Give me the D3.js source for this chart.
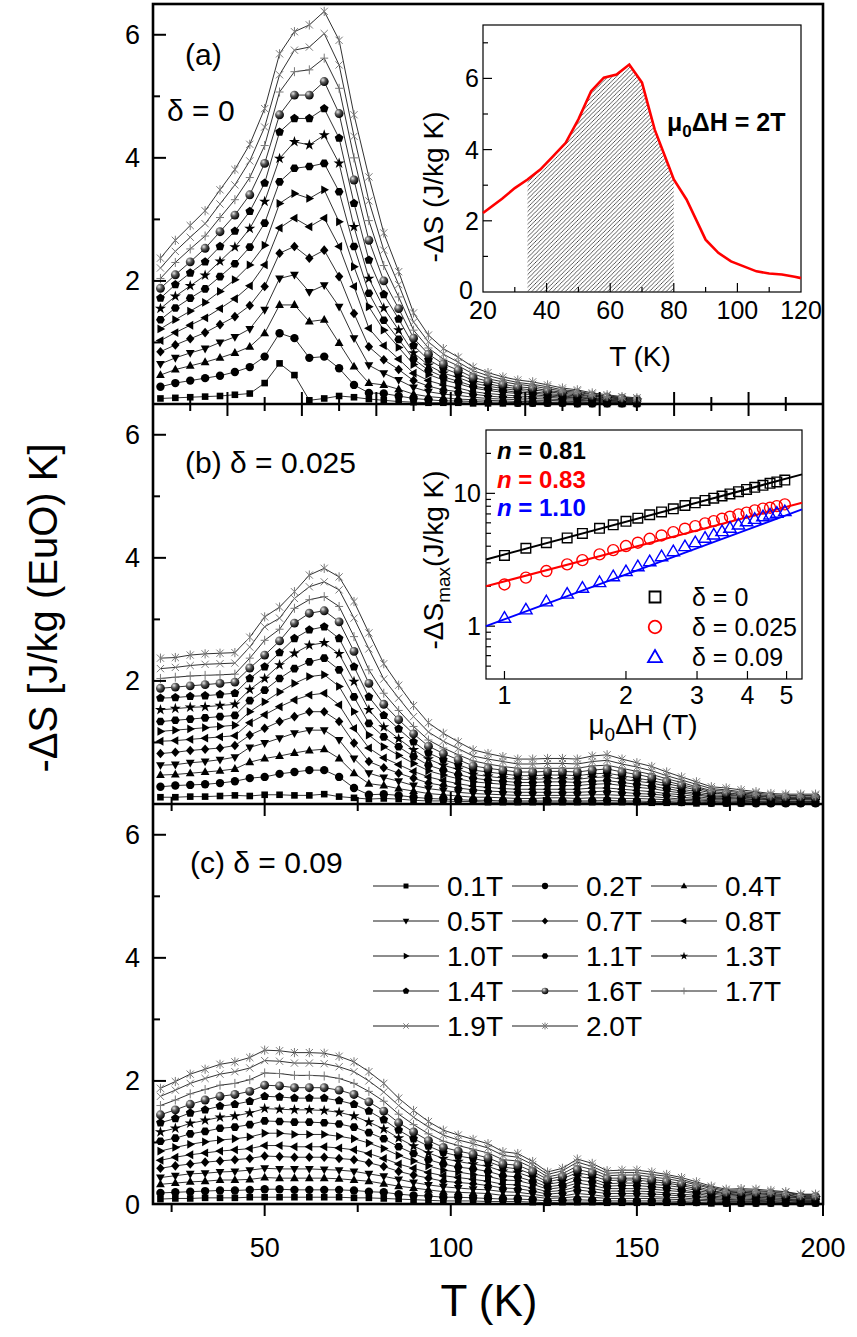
<!DOCTYPE html>
<html>
<head>
<meta charset="utf-8">
<script src="https://cdn.jsdelivr.net/npm/d3@7"></script>
<style>
  body { margin: 0; background: #fff; }
  svg text { font-family: "Liberation Sans", Arial, Helvetica, sans-serif; fill: #000; }
</style>
</head>
<body>
<svg id="fig" width="857" height="1337"></svg>
<script>
// ---------- values ----------
const fields = ["0.1T", "0.2T", "0.4T", "0.5T", "0.7T", "0.8T", "1.0T", "1.1T", "1.3T", "1.4T", "1.6T", "1.7T", "1.9T", "2.0T"];
const markerTypes = ["square", "circle", "triUp", "triDown", "diamond", "triLeft", "triRight", "hexagon", "star", "pentagon", "sphere", "plus", "cross", "asterisk"];

const tempsA = [22,26,30,34,38,42,46,50,54,58,62,66,70,74,78,82,86,90,94,98,102,106,110,114,118,122,126,130,134,138,142,146,150];
const tempsBC = [22,26,30,34,38,42,46,50,54,58,62,66,70,74,78,82,86,90,94,98,102,106,110,114,118,122,126,130,134,138,142,146,150,154,158,162,166,170,174,178,182,186,190,194,198];

// (a) delta = 0
const a01 = [0.09,0.10,0.11,0.12,0.13,0.15,0.17,0.34,0.66,0.47,0.06,0.09,0.13,0.11,0.08,0.06,0.04,0.03,0.02,0.02,0.02,0.01,0.01,0.01,0.01,0.01,0.01,0.01,0.00,0.00,0.00,0.00,0.00];
const a02 = [0.28,0.34,0.38,0.42,0.46,0.52,0.60,0.77,1.15,1.07,0.75,0.77,0.58,0.31,0.18,0.17,0.13,0.09,0.07,0.05,0.05,0.04,0.03,0.03,0.02,0.02,0.02,0.02,0.01,0.01,0.01,0.01,0.01];
const a04 = [0.47,0.56,0.62,0.68,0.75,0.83,0.93,1.15,1.61,1.61,1.34,1.37,0.99,0.61,0.34,0.31,0.24,0.16,0.12,0.10,0.08,0.07,0.06,0.05,0.04,0.04,0.03,0.03,0.03,0.02,0.02,0.01,0.01];
const a05 = [0.65,0.75,0.83,0.90,1.00,1.09,1.22,1.53,2.04,2.10,1.82,1.93,1.58,1.07,0.63,0.50,0.39,0.27,0.20,0.16,0.14,0.11,0.09,0.08,0.07,0.06,0.06,0.05,0.04,0.03,0.03,0.02,0.02];
const a07 = [0.85,0.96,1.06,1.16,1.29,1.42,1.60,1.91,2.45,2.56,2.37,2.50,2.07,1.47,0.93,0.72,0.56,0.38,0.29,0.23,0.20,0.16,0.13,0.11,0.10,0.09,0.08,0.07,0.06,0.05,0.04,0.03,0.03];
const a08 = [1.03,1.16,1.28,1.40,1.55,1.71,1.92,2.26,2.86,3.02,2.88,3.02,2.56,1.91,1.23,0.95,0.73,0.50,0.38,0.31,0.26,0.20,0.17,0.15,0.13,0.12,0.11,0.09,0.08,0.06,0.05,0.04,0.03];
const a10 = [1.22,1.37,1.51,1.65,1.83,2.02,2.26,2.58,3.26,3.42,3.34,3.48,2.96,2.23,1.58,1.20,0.92,0.64,0.48,0.39,0.33,0.26,0.22,0.19,0.17,0.15,0.13,0.11,0.10,0.08,0.06,0.05,0.04];
const a11 = [1.37,1.56,1.72,1.87,2.07,2.28,2.55,2.94,3.61,3.83,3.86,3.91,3.45,2.56,1.80,1.36,1.05,0.73,0.55,0.44,0.37,0.29,0.25,0.22,0.19,0.18,0.15,0.13,0.11,0.09,0.07,0.06,0.05];
const a13 = [1.55,1.75,1.92,2.09,2.32,2.55,2.85,3.29,3.99,4.26,4.21,4.37,3.91,2.88,2.04,1.56,1.20,0.83,0.63,0.50,0.43,0.34,0.29,0.25,0.22,0.20,0.17,0.15,0.13,0.10,0.08,0.07,0.06];
const a14 = [1.72,1.94,2.13,2.31,2.56,2.81,3.13,3.59,4.42,4.64,4.64,4.80,4.32,3.26,2.34,1.78,1.38,0.95,0.72,0.58,0.49,0.38,0.33,0.28,0.25,0.23,0.20,0.17,0.15,0.12,0.10,0.08,0.06];
const a16 = [1.88,2.10,2.31,2.53,2.80,3.07,3.40,3.91,4.70,5.02,5.02,5.24,4.72,3.64,2.66,2.00,1.55,1.07,0.81,0.65,0.55,0.43,0.37,0.32,0.28,0.26,0.22,0.19,0.17,0.13,0.11,0.09,0.07];
const a17 = [2.04,2.30,2.52,2.73,3.03,3.32,3.68,4.20,5.07,5.40,5.43,5.62,5.13,4.00,2.98,2.25,1.74,1.20,0.91,0.73,0.62,0.49,0.41,0.36,0.32,0.29,0.25,0.21,0.19,0.15,0.12,0.10,0.08];
const a19 = [2.21,2.48,2.71,2.93,3.25,3.56,3.95,4.50,5.35,5.75,5.80,6.02,5.51,4.35,3.30,2.50,1.94,1.33,1.01,0.81,0.68,0.54,0.46,0.40,0.35,0.32,0.28,0.23,0.21,0.16,0.13,0.11,0.09];
const a20 = [2.37,2.66,2.90,3.14,3.48,3.81,4.22,4.80,5.69,6.05,6.16,6.38,5.91,4.70,3.69,2.78,2.15,1.48,1.12,0.90,0.76,0.60,0.51,0.44,0.39,0.36,0.31,0.26,0.23,0.18,0.15,0.12,0.10];

// (b) delta = 0.025
const b01 = [0.11,0.11,0.12,0.12,0.13,0.14,0.13,0.15,0.15,0.14,0.14,0.16,0.12,0.10,0.08,0.09,0.08,0.06,0.05,0.05,0.04,0.04,0.03,0.03,0.03,0.03,0.03,0.03,0.03,0.03,0.03,0.03,0.03,0.02,0.02,0.02,0.01,0.01,0.01,0.01,0.01,0.01,0.01,0.01,0.01];
const b02 = [0.28,0.30,0.31,0.32,0.34,0.37,0.42,0.44,0.49,0.52,0.55,0.55,0.44,0.26,0.15,0.16,0.14,0.11,0.09,0.08,0.07,0.06,0.06,0.05,0.05,0.05,0.05,0.05,0.05,0.05,0.06,0.05,0.05,0.04,0.04,0.03,0.03,0.02,0.02,0.02,0.01,0.01,0.01,0.01,0.01];
const b04 = [0.47,0.48,0.50,0.52,0.54,0.57,0.68,0.74,0.78,0.83,0.87,0.89,0.74,0.50,0.33,0.30,0.25,0.21,0.17,0.15,0.13,0.11,0.11,0.10,0.09,0.09,0.10,0.10,0.09,0.10,0.10,0.09,0.09,0.08,0.07,0.06,0.05,0.04,0.03,0.03,0.03,0.02,0.02,0.02,0.02];
const b05 = [0.63,0.64,0.67,0.69,0.72,0.76,0.92,0.99,1.07,1.15,1.20,1.20,1.04,0.74,0.50,0.43,0.37,0.30,0.25,0.22,0.19,0.17,0.16,0.15,0.14,0.14,0.14,0.14,0.14,0.15,0.15,0.14,0.13,0.12,0.10,0.08,0.07,0.05,0.05,0.04,0.04,0.03,0.03,0.03,0.03];
const b07 = [0.82,0.84,0.87,0.89,0.91,0.95,1.12,1.23,1.34,1.42,1.50,1.50,1.34,0.99,0.69,0.59,0.50,0.42,0.34,0.30,0.26,0.23,0.21,0.20,0.19,0.19,0.19,0.19,0.19,0.20,0.21,0.19,0.17,0.16,0.14,0.11,0.09,0.07,0.07,0.06,0.05,0.04,0.04,0.04,0.04];
const b08 = [1.02,1.03,1.05,1.07,1.09,1.11,1.32,1.45,1.58,1.69,1.77,1.80,1.61,1.23,0.91,0.75,0.64,0.53,0.44,0.38,0.33,0.29,0.27,0.25,0.24,0.24,0.24,0.24,0.24,0.26,0.26,0.24,0.22,0.20,0.17,0.15,0.12,0.09,0.09,0.08,0.07,0.06,0.05,0.05,0.05];
const b10 = [1.18,1.20,1.22,1.24,1.26,1.28,1.50,1.66,1.82,1.96,2.07,2.10,1.91,1.50,1.12,0.93,0.79,0.66,0.54,0.47,0.41,0.36,0.34,0.32,0.30,0.30,0.30,0.30,0.30,0.32,0.33,0.30,0.27,0.25,0.21,0.18,0.15,0.11,0.11,0.09,0.08,0.07,0.07,0.07,0.07];
const b11 = [1.34,1.36,1.38,1.40,1.42,1.44,1.68,1.85,2.04,2.20,2.31,2.37,2.18,1.74,1.31,1.09,0.93,0.77,0.63,0.55,0.48,0.42,0.39,0.37,0.35,0.35,0.36,0.36,0.35,0.37,0.38,0.35,0.32,0.29,0.25,0.21,0.17,0.13,0.12,0.11,0.10,0.08,0.08,0.08,0.08];
const b13 = [1.53,1.55,1.57,1.58,1.60,1.62,1.86,2.04,2.26,2.45,2.58,2.62,2.44,1.99,1.53,1.25,1.06,0.88,0.73,0.63,0.56,0.48,0.45,0.42,0.40,0.40,0.41,0.41,0.40,0.43,0.44,0.40,0.37,0.34,0.29,0.24,0.20,0.15,0.14,0.13,0.11,0.09,0.09,0.09,0.09];
const b14 = [1.72,1.73,1.75,1.76,1.78,1.80,2.04,2.23,2.46,2.69,2.83,2.88,2.69,2.23,1.74,1.44,1.22,1.01,0.83,0.72,0.64,0.55,0.52,0.49,0.46,0.46,0.47,0.47,0.46,0.49,0.50,0.46,0.42,0.38,0.33,0.28,0.23,0.18,0.16,0.14,0.13,0.11,0.10,0.10,0.10];
const b16 = [1.88,1.90,1.92,1.94,1.96,1.98,2.21,2.42,2.65,2.94,3.10,3.14,2.96,2.48,1.96,1.62,1.37,1.14,0.94,0.82,0.72,0.62,0.58,0.55,0.52,0.52,0.53,0.53,0.52,0.55,0.57,0.52,0.48,0.43,0.37,0.31,0.26,0.20,0.18,0.16,0.14,0.12,0.11,0.11,0.11];
const b17 = [2.04,2.06,2.08,2.09,2.10,2.11,2.37,2.66,2.84,3.18,3.32,3.37,3.21,2.72,2.18,1.80,1.52,1.26,1.04,0.91,0.80,0.70,0.65,0.61,0.58,0.58,0.58,0.58,0.58,0.62,0.63,0.58,0.53,0.48,0.41,0.35,0.28,0.22,0.21,0.18,0.16,0.13,0.13,0.13,0.13];
const b19 = [2.20,2.22,2.25,2.27,2.28,2.29,2.55,2.88,3.02,3.34,3.53,3.61,3.48,3.02,2.52,2.03,1.72,1.42,1.17,1.02,0.90,0.78,0.73,0.69,0.65,0.65,0.66,0.66,0.65,0.69,0.71,0.65,0.60,0.54,0.46,0.39,0.32,0.25,0.23,0.20,0.18,0.15,0.14,0.14,0.14];
const b20 = [2.37,2.38,2.42,2.44,2.45,2.46,2.71,3.04,3.20,3.45,3.72,3.83,3.69,3.29,2.78,2.28,1.93,1.60,1.32,1.15,1.01,0.88,0.82,0.77,0.73,0.73,0.74,0.74,0.73,0.78,0.80,0.73,0.67,0.61,0.52,0.44,0.36,0.28,0.26,0.23,0.20,0.17,0.16,0.16,0.16];

// (c) delta = 0.09
const c01 = [0.08,0.09,0.09,0.10,0.10,0.10,0.11,0.11,0.11,0.11,0.11,0.11,0.11,0.10,0.10,0.09,0.08,0.07,0.06,0.05,0.05,0.05,0.04,0.04,0.04,0.03,0.02,0.03,0.03,0.03,0.02,0.02,0.02,0.02,0.02,0.02,0.02,0.01,0.01,0.01,0.01,0.01,0.01,0.01,0.01];
const c02 = [0.18,0.19,0.20,0.21,0.22,0.22,0.23,0.24,0.24,0.23,0.23,0.23,0.23,0.22,0.20,0.19,0.16,0.14,0.13,0.11,0.11,0.10,0.09,0.08,0.08,0.07,0.05,0.06,0.07,0.06,0.05,0.05,0.05,0.05,0.05,0.04,0.03,0.03,0.02,0.02,0.02,0.02,0.02,0.02,0.02];
const c04 = [0.32,0.34,0.36,0.37,0.39,0.39,0.40,0.43,0.42,0.42,0.42,0.42,0.41,0.39,0.37,0.33,0.29,0.26,0.23,0.20,0.19,0.18,0.17,0.14,0.14,0.12,0.09,0.10,0.12,0.11,0.09,0.09,0.09,0.09,0.08,0.07,0.06,0.05,0.04,0.04,0.04,0.04,0.03,0.03,0.03];
const c05 = [0.43,0.46,0.49,0.50,0.52,0.53,0.55,0.58,0.57,0.57,0.57,0.56,0.55,0.53,0.49,0.45,0.40,0.35,0.31,0.28,0.26,0.24,0.23,0.20,0.19,0.16,0.12,0.13,0.17,0.15,0.12,0.13,0.13,0.12,0.11,0.10,0.08,0.07,0.06,0.06,0.06,0.05,0.05,0.04,0.04];
const c07 = [0.58,0.62,0.65,0.68,0.70,0.72,0.74,0.78,0.77,0.76,0.76,0.76,0.74,0.72,0.67,0.61,0.53,0.47,0.42,0.37,0.35,0.33,0.30,0.26,0.25,0.21,0.16,0.18,0.23,0.20,0.17,0.17,0.17,0.16,0.15,0.13,0.11,0.09,0.07,0.08,0.07,0.07,0.06,0.05,0.05];
const c08 = [0.71,0.76,0.80,0.83,0.86,0.88,0.90,0.95,0.95,0.93,0.93,0.93,0.91,0.88,0.82,0.74,0.65,0.58,0.51,0.46,0.43,0.40,0.37,0.32,0.31,0.26,0.20,0.22,0.28,0.25,0.21,0.21,0.21,0.20,0.18,0.16,0.14,0.11,0.09,0.10,0.09,0.08,0.08,0.06,0.06];
const c10 = [0.86,0.92,0.97,1.01,1.04,1.06,1.09,1.15,1.15,1.13,1.13,1.13,1.10,1.06,0.99,0.90,0.79,0.70,0.62,0.55,0.52,0.48,0.45,0.39,0.38,0.32,0.24,0.27,0.34,0.30,0.25,0.25,0.25,0.24,0.22,0.20,0.17,0.13,0.11,0.12,0.11,0.10,0.09,0.07,0.07];
const c11 = [1.02,1.07,1.14,1.18,1.23,1.25,1.29,1.35,1.34,1.33,1.33,1.32,1.30,1.25,1.16,1.06,0.93,0.82,0.72,0.65,0.60,0.57,0.53,0.46,0.44,0.37,0.28,0.31,0.39,0.36,0.29,0.30,0.30,0.28,0.26,0.23,0.19,0.16,0.13,0.14,0.13,0.12,0.11,0.09,0.09];
const c13 = [1.17,1.23,1.31,1.36,1.41,1.43,1.48,1.55,1.54,1.53,1.53,1.52,1.49,1.43,1.33,1.22,1.07,0.94,0.83,0.74,0.69,0.65,0.61,0.53,0.51,0.43,0.32,0.36,0.45,0.41,0.33,0.34,0.34,0.32,0.30,0.27,0.22,0.18,0.15,0.16,0.15,0.14,0.12,0.10,0.10];
const c14 = [1.32,1.39,1.48,1.53,1.59,1.62,1.67,1.75,1.74,1.72,1.72,1.72,1.68,1.62,1.51,1.37,1.20,1.06,0.94,0.84,0.78,0.74,0.69,0.60,0.57,0.48,0.36,0.41,0.51,0.46,0.38,0.39,0.39,0.36,0.34,0.30,0.25,0.20,0.17,0.18,0.17,0.15,0.14,0.11,0.11];
const c16 = [1.45,1.53,1.62,1.69,1.75,1.78,1.83,1.93,1.92,1.89,1.89,1.89,1.85,1.78,1.66,1.51,1.32,1.17,1.03,0.92,0.86,0.81,0.75,0.65,0.63,0.53,0.40,0.45,0.56,0.51,0.42,0.42,0.42,0.40,0.37,0.33,0.28,0.22,0.18,0.19,0.18,0.17,0.15,0.12,0.12];
const c17 = [1.60,1.69,1.79,1.86,1.93,1.96,2.02,2.13,2.12,2.09,2.09,2.08,2.04,1.96,1.83,1.67,1.46,1.29,1.14,1.02,0.95,0.89,0.83,0.72,0.70,0.59,0.44,0.49,0.62,0.56,0.46,0.47,0.47,0.44,0.41,0.37,0.31,0.25,0.20,0.21,0.20,0.19,0.17,0.14,0.14];
const c19 = [1.75,1.85,1.96,2.04,2.11,2.15,2.21,2.33,2.32,2.29,2.29,2.28,2.23,2.15,2.00,1.82,1.60,1.41,1.25,1.12,1.04,0.98,0.91,0.79,0.76,0.64,0.48,0.54,0.68,0.61,0.50,0.51,0.51,0.48,0.45,0.40,0.33,0.27,0.22,0.23,0.22,0.20,0.19,0.15,0.15];
const c20 = [1.88,1.99,2.11,2.19,2.27,2.31,2.38,2.50,2.49,2.46,2.46,2.45,2.40,2.31,2.15,1.96,1.72,1.52,1.34,1.20,1.12,1.05,0.98,0.85,0.82,0.69,0.52,0.58,0.73,0.66,0.54,0.55,0.55,0.52,0.48,0.43,0.36,0.29,0.24,0.25,0.24,0.22,0.20,0.16,0.16];

// inset (a): 2T curve, hatched between 34 K and 80 K
const insetT = [20,26,30,34,38,42,46,50,54,58,62,66,70,74,78,80,84,90,94,98,102,106,110,114,118,120];
const insetS = [2.22,2.62,2.92,3.16,3.44,3.81,4.19,4.85,5.64,6.02,6.11,6.39,5.88,4.56,3.63,3.16,2.60,1.47,1.10,0.86,0.72,0.58,0.52,0.49,0.43,0.39];
const hatchFrom = 34, hatchTo = 80;

// inset (b): -dS_max vs field, log-log
const fieldH = [1.0,1.13,1.27,1.43,1.56,1.72,1.86,2.0,2.14,2.29,2.45,2.62,2.8,2.97,3.14,3.3,3.46,3.62,3.8,3.98,4.17,4.37,4.55,4.73,4.95];
const smax0   = [3.41,3.86,4.25,4.62,4.99,5.45,5.80,6.16,6.50,6.90,7.25,7.65,8.10,8.48,8.85,9.20,9.55,9.90,10.3,10.7,11.1,11.5,11.9,12.2,12.6];
const smax025 = [2.06,2.32,2.60,2.92,3.14,3.47,3.74,4.01,4.25,4.55,4.82,5.11,5.42,5.67,5.94,6.18,6.44,6.67,6.95,7.16,7.45,7.67,7.80,8.02,8.26];
const smax09  = [1.16,1.34,1.54,1.76,1.95,2.15,2.38,2.60,2.83,3.09,3.37,3.67,4.01,4.30,4.64,4.91,5.20,5.52,5.84,6.18,6.44,6.74,6.95,7.16,7.36];
const fitH = [0.9, 5.46];
const fit0 = [3.18, 13.9];
const fit025 = [2.0, 8.5];
const fit09 = [1.0, 7.57];
const fitN = ["0.81", "0.83", "1.10"];
const deltaLabels = ["0", "0.025", "0.09"];

const mainXTicks = [50, 100, 150, 200];
const mainYTicks = [2, 4, 6];

// ---------- drawing ----------
const svg = d3.select("#fig");
const defs = svg.append("defs");

let ball = defs.append("radialGradient").attr("id", "ball")
  .attr("cx", "35%").attr("cy", "32%").attr("r", "70%");
ball.append("stop").attr("offset", "0%").attr("stop-color", "#e6e6e6");
ball.append("stop").attr("offset", "45%").attr("stop-color", "#555");
ball.append("stop").attr("offset", "100%").attr("stop-color", "#000");

let hatch = defs.append("pattern").attr("id", "hatch")
  .attr("patternUnits", "userSpaceOnUse").attr("width", 4.2).attr("height", 4.2);
hatch.append("path").attr("d", "M-1,1 l2,-2 M0,4.2 l4.2,-4.2 M3.2,5.2 l2,-2")
  .attr("stroke", "#333").attr("stroke-width", 0.8);

let ngon = (n, r, start) => "M" + d3.range(n).map(i => {
  let a = start + i * 2 * Math.PI / n;
  return (r * Math.cos(a)).toFixed(2) + "," + (r * Math.sin(a)).toFixed(2);
}).join("L") + "Z";

const shapes = {
  square: "M-3.3,-3.3H3.3V3.3H-3.3Z",
  circle: d3.symbol(d3.symbolCircle, 55)(),
  triUp: "M0,-4.8L4.4,3L-4.4,3Z",
  triDown: "M0,4.8L4.4,-3L-4.4,-3Z",
  diamond: "M0,-4.8L4.2,0L0,4.8L-4.2,0Z",
  triLeft: "M-4.8,0L3,-4.4L3,4.4Z",
  triRight: "M4.8,0L-3,-4.4L-3,4.4Z",
  hexagon: ngon(6, 4.4, 0),
  star: d3.symbol(d3.symbolStar, 38)(),
  pentagon: ngon(5, 4.6, -Math.PI / 2),
  sphere: d3.symbol(d3.symbolCircle, 62)(),
  plus: "M-4,0H4M0,-4.5V4.5",
  cross: "M-3.6,-3.6L3.6,3.6M-3.6,3.6L3.6,-3.6",
  asterisk: "M-3.6,-3.6L3.6,3.6M-3.6,3.6L3.6,-3.6M0,-4.6V4.6"
};
const strokeOnly = ["plus", "cross", "asterisk"];

let styleMarker = (sel, type) => {
  if (strokeOnly.includes(type)) {
    sel.attr("fill", "none").attr("stroke", "#7a7a7a").attr("stroke-width", 1)
      .attr("vector-effect", "non-scaling-stroke");
  } else {
    sel.attr("fill", type === "sphere" ? "url(#ball)" : "#000").attr("stroke", "none");
  }
};

let text = (x, y, str, size, anchor) => svg.append("text")
  .attr("x", x).attr("y", y).attr("font-size", size)
  .attr("text-anchor", anchor || "start").text(str);

// main panels
const left = 153, right = 823, panelH = 400;
const x = d3.scaleLinear().domain([20, 200]).range([left, right]);
const panels = [
  { top: 4, temps: tempsA, series: [a01, a02, a04, a05, a07, a08, a10, a11, a13, a14, a16, a17, a19, a20] },
  { top: 404, temps: tempsBC, series: [b01, b02, b04, b05, b07, b08, b10, b11, b13, b14, b16, b17, b19, b20] },
  { top: 804, temps: tempsBC, series: [c01, c02, c04, c05, c07, c08, c10, c11, c13, c14, c16, c17, c19, c20] }
];

panels.forEach((p, pi) => {
  let y = d3.scaleLinear().domain([0, 6.5]).range([p.top + panelH, p.top]);
  let line = d3.line().x((d, i) => x(p.temps[i])).y(d => y(d));
  let g = svg.append("g");
  p.series.forEach(vals => {
    g.append("path").attr("d", line(vals))
      .attr("fill", "none").attr("stroke", "#1a1a1a").attr("stroke-width", 0.9);
  });
  p.series.forEach((vals, k) => {
    let type = markerTypes[k];
    g.append("g").selectAll("path").data(vals).enter().append("path")
      .attr("d", shapes[type])
      .attr("transform", (d, i) => `translate(${x(p.temps[i])},${y(d)})`)
      .call(styleMarker, type);
  });

  // y ticks, pointing in
  d3.range(1, 7).forEach(v => {
    let len = v % 2 === 0 ? 13 : 7;
    svg.append("line").attr("x1", left).attr("x2", left + len)
      .attr("y1", y(v)).attr("y2", y(v)).attr("stroke", "#000").attr("stroke-width", 2);
  });
  (pi === 2 ? [0].concat(mainYTicks) : mainYTicks).forEach(v => text(140, y(v) + 9.5, v, 27, "end"));
});

// x ticks on the panel borders
let xTick = (T, yy, len) => svg.append("line").attr("x1", x(T)).attr("x2", x(T))
  .attr("y1", yy).attr("y2", yy + len).attr("stroke", "#000").attr("stroke-width", 2);
d3.range(30, 200, 10).forEach(T => {
  let len = T % 20 === 0 ? 12 : 7;
  xTick(T, 404, -len);
  xTick(T, 404, len);
});
d3.range(25, 200, 25).forEach(T => {
  let len = T % 50 === 0 ? 12 : 7;
  xTick(T, 804, -len);
  xTick(T, 804, len);
});
d3.range(25, 201, 25).forEach(T => xTick(T, 1204, T % 50 === 0 ? 12 : 8));
mainXTicks.forEach(T => text(x(T), 1257, T, 27, "middle"));

// frame
svg.append("rect").attr("x", left).attr("y", 4).attr("width", right - left).attr("height", 1200)
  .attr("fill", "none").attr("stroke", "#000").attr("stroke-width", 2.6);
[404, 804].forEach(yy => svg.append("line").attr("x1", left).attr("x2", right)
  .attr("y1", yy).attr("y2", yy).attr("stroke", "#000").attr("stroke-width", 2.6));

// axis titles
svg.append("text").attr("transform", "translate(57,608) rotate(-90)")
  .attr("text-anchor", "middle").attr("font-size", 40).text("-ΔS [J/kg (EuO) K]");
text(489, 1316, "T (K)", 44, "middle");

// panel labels
text(185, 65, "(a)", 30);
text(167, 121, "δ = 0", 30);
text(185, 473, "(b) δ = 0.025", 30);
text(190, 873, "(c) δ = 0.09", 30);

// legend in (c)
const legCols = [373, 512, 651];
fields.forEach((f, k) => {
  let cx = legCols[k % 3], cy = 886 + Math.floor(k / 3) * 35;
  svg.append("line").attr("x1", cx).attr("x2", cx + 66).attr("y1", cy).attr("y2", cy)
    .attr("stroke", "#1a1a1a").attr("stroke-width", 1);
  svg.append("path").attr("d", shapes[markerTypes[k]])
    .attr("transform", `translate(${cx + 33},${cy}) scale(0.75)`)
    .call(styleMarker, markerTypes[k]);
  text(cx + 74, cy + 10, f, 28);
});

// ---------- inset (a) ----------
const xi = d3.scaleLinear().domain([20, 120]).range([483, 801]);
const yi = d3.scaleLinear().domain([0, 7.5]).range([292, 25]);
svg.append("rect").attr("x", 483).attr("y", 25).attr("width", 318).attr("height", 267)
  .attr("fill", "#fff").attr("stroke", "#000").attr("stroke-width", 1.2);
let hatchIdx = insetT.map((t, i) => i).filter(i => insetT[i] >= hatchFrom && insetT[i] <= hatchTo);
svg.append("path")
  .attr("d", d3.area().x(i => xi(insetT[i])).y0(yi(0)).y1(i => yi(insetS[i]))(hatchIdx))
  .attr("fill", "url(#hatch)");
svg.append("path")
  .attr("d", d3.line().x((d, i) => xi(insetT[i])).y(d => yi(d))(insetS))
  .attr("fill", "none").attr("stroke", "#ff0000").attr("stroke-width", 2.6);
d3.range(30, 120, 10).forEach(T => svg.append("line")
  .attr("x1", xi(T)).attr("x2", xi(T)).attr("y1", 292).attr("y2", 292 - (T % 20 === 0 ? 9 : 5))
  .attr("stroke", "#000").attr("stroke-width", 1.2));
d3.range(1, 8).forEach(v => svg.append("line")
  .attr("x1", 483).attr("x2", 483 + (v % 2 === 0 ? 9 : 5)).attr("y1", yi(v)).attr("y2", yi(v))
  .attr("stroke", "#000").attr("stroke-width", 1.2));
[20, 40, 60, 80, 100, 120].forEach(T => text(xi(T), 319, T, 25, "middle"));
[2, 4, 6].forEach(v => text(479, yi(v) + 9, v, 25, "end"));
text(473, 299, "0", 25, "end");
text(640, 366, "T (K)", 28, "middle");
svg.append("text").attr("transform", "translate(443,187) rotate(-90)")
  .attr("text-anchor", "middle").attr("font-size", 28).text("-ΔS (J/kg K)");
let mu = svg.append("text").attr("x", 667).attr("y", 131).attr("font-size", 25).attr("font-weight", "bold");
mu.append("tspan").text("μ");
mu.append("tspan").attr("font-size", 17).attr("dy", 6).text("0");
mu.append("tspan").attr("dy", -6).text("ΔH = 2T");

// ---------- inset (b) ----------
const xb = d3.scaleLog().domain([0.9, 5.46]).range([486, 802]);
const yb = d3.scaleLog().domain([0.4, 30]).range([679, 430]);
svg.append("rect").attr("x", 486).attr("y", 430).attr("width", 316).attr("height", 249)
  .attr("fill", "#fff").attr("stroke", "#000").attr("stroke-width", 1.2);
[0.5, 0.6, 0.7, 0.8, 0.9, 1, 2, 3, 4, 5, 6, 7, 8, 9, 10, 20].forEach(v => svg.append("line")
  .attr("x1", 486).attr("x2", 486 + (v === 1 || v === 10 ? 9 : 5)).attr("y1", yb(v)).attr("y2", yb(v))
  .attr("stroke", "#000").attr("stroke-width", 1.2));
[1, 2, 3, 4, 5].forEach(h => {
  svg.append("line").attr("x1", xb(h)).attr("x2", xb(h)).attr("y1", 679).attr("y2", 671)
    .attr("stroke", "#000").attr("stroke-width", 1.2);
  text(xb(h), 704, h, 25, "middle");
});
text(481, yb(10) + 9, "10", 25, "end");
text(481, yb(1) + 9, "1", 25, "end");

let xl = svg.append("text").attr("x", 643).attr("y", 734).attr("font-size", 28).attr("text-anchor", "middle");
xl.append("tspan").text("μ");
xl.append("tspan").attr("font-size", 19).attr("dy", 7).text("0");
xl.append("tspan").attr("dy", -7).text("ΔH (T)");
let yl = svg.append("text").attr("transform", "translate(443,560) rotate(-90)")
  .attr("font-size", 28).attr("text-anchor", "middle");
yl.append("tspan").text("-ΔS");
yl.append("tspan").attr("font-size", 19).attr("dy", 7).text("max");
yl.append("tspan").attr("dy", -7).text("(J/kg K)");

const insetSeries = [
  { vals: smax0, fit: fit0, color: "#000", shape: "M-4.8,-4.8H4.8V4.8H-4.8Z", legShape: "M-5.5,-5.5H5.5V5.5H-5.5Z" },
  { vals: smax025, fit: fit025, color: "#ff0000", shape: d3.symbol(d3.symbolCircle, 95)(), legShape: d3.symbol(d3.symbolCircle, 125)() },
  { vals: smax09, fit: fit09, color: "#0000ff", shape: "M0,-6L6.2,4.6L-6.2,4.6Z", legShape: "M0,-7L7,5.2L-7,5.2Z" }
];
insetSeries.forEach((s, k) => {
  svg.append("path")
    .attr("d", d3.line().x((d, i) => xb(fitH[i])).y(d => yb(d))(s.fit))
    .attr("stroke", s.color).attr("stroke-width", 2).attr("fill", "none");
  svg.append("g").selectAll("path").data(s.vals).enter().append("path")
    .attr("d", s.shape)
    .attr("transform", (d, i) => `translate(${xb(fieldH[i])},${yb(d)})`)
    .attr("fill", "none").attr("stroke", s.color).attr("stroke-width", 1.4);
  // legend rows
  let ly = 597 + k * 30;
  svg.append("path").attr("d", s.legShape).attr("transform", `translate(655,${ly})`)
    .attr("fill", "none").attr("stroke", s.color).attr("stroke-width", 1.8);
  text(692, ly + 9, "δ = " + deltaLabels[k], 25);
  // exponent text
  let nt = svg.append("text").attr("x", 497).attr("y", 459 + k * 28.5)
    .attr("font-size", 24).attr("font-weight", "bold").style("fill", s.color);
  nt.append("tspan").attr("font-style", "italic").text("n");
  nt.append("tspan").text(" = " + fitN[k]);
});
</script>
</body>
</html>
